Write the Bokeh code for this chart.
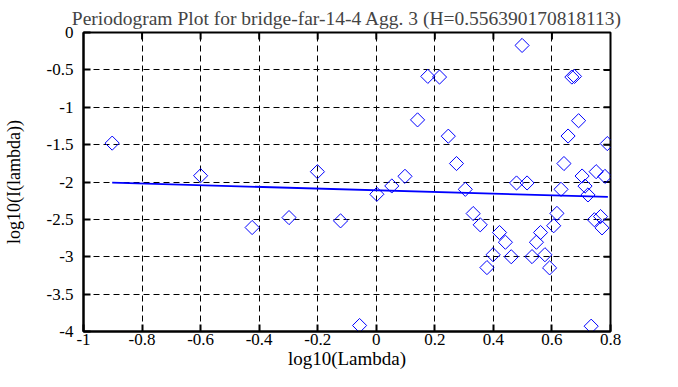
from bokeh.plotting import figure
from bokeh.models import Range1d, FixedTicker
from bokeh.embed import file_html
from bokeh.resources import INLINE
import math

title_text = "Periodogram Plot for bridge-far-14-4 Agg. 3 (H=0.556390170818113)"
x_label = "log10(Lambda)"
y_label = "log10(I(lambda))"

x_ticks = [-1, -0.8, -0.6, -0.4, -0.2, 0, 0.2, 0.4, 0.6, 0.8]
x_tick_labels = ["-1", "-0.8", "-0.6", "-0.4", "-0.2", "0", "0.2", "0.4", "0.6", "0.8"]
y_ticks = [0, -0.5, -1, -1.5, -2, -2.5, -3, -3.5, -4]
y_tick_labels = ["0", "-0.5", "-1", "-1.5", "-2", "-2.5", "-3", "-3.5", "-4"]

log_lambda = [-0.902, -0.600, -0.424, -0.298, -0.201, -0.122, -0.057, 0.002, 0.053, 0.098,
              0.141, 0.176, 0.216, 0.246, 0.274, 0.304, 0.331, 0.355, 0.378, 0.399,
              0.421, 0.441, 0.461, 0.479, 0.498, 0.515, 0.532, 0.547, 0.561, 0.576,
              0.592, 0.606, 0.617, 0.631, 0.641, 0.655, 0.668, 0.677, 0.691, 0.703,
              0.713, 0.723, 0.734, 0.745, 0.751, 0.766, 0.771, 0.781, 0.789]
log_I = [-1.48, -1.916, -2.609, -2.476, -1.862, -2.52, -3.92, -2.164, -2.053, -1.924,
         -1.169, -0.587, -0.596, -1.387, -1.753, -2.098, -2.422, -2.573, -3.145, -2.973,
         -2.676, -2.806, -3.0, -2.013, -0.173, -2.013, -2.998, -2.806, -2.676, -2.973,
         -3.149, -2.585, -2.420, -2.098, -1.753, -1.385, -0.596, -0.587, -1.18, -1.92,
         -2.055, -2.173, -3.929, -2.505, -1.862, -2.462, -2.614, -1.925, -1.486]

fit_x = [-0.902, 0.791]
fit_y = [-2.009, -2.200]

FONT = "Liberation Serif"

p = figure(width=662, height=371, output_backend="svg", toolbar_location=None,
           x_range=Range1d(-1, 0.8), y_range=Range1d(-4, 0),
           min_border_left=82, min_border_right=52, min_border_top=32, min_border_bottom=40,
           x_axis_label=x_label, y_axis_label=y_label)

p.title.text = title_text
p.title.text_font = FONT
p.title.text_font_size = "19.5px"
p.title.text_font_style = "normal"
p.title.align = "center"
p.title.standoff = 8
p.title.offset = 0

p.background_fill_color = "white"
p.border_fill_color = "white"
p.outline_line_color = "black"
p.outline_line_width = 2

for ax in p.xaxis:
    ax.ticker = FixedTicker(ticks=x_ticks)
    ax.major_label_overrides = dict(zip(x_ticks, x_tick_labels))
for ax in p.yaxis:
    ax.ticker = FixedTicker(ticks=y_ticks)
    ax.major_label_overrides = dict(zip(y_ticks, y_tick_labels))

for ax in list(p.xaxis) + list(p.yaxis):
    ax.axis_line_color = "black"
    ax.axis_line_width = 2
    ax.major_tick_in = 7
    ax.major_tick_out = 0
    ax.major_tick_line_width = 2
    ax.minor_tick_line_color = None
    ax.major_label_text_font = FONT
    ax.major_label_text_font_size = "17px"
    ax.major_label_text_color = "black"
    ax.axis_label_text_font = FONT
    ax.axis_label_text_font_style = "normal"
    ax.axis_label_text_color = "black"
p.xaxis.axis_label_text_font_size = "19px"
p.yaxis.axis_label_text_font_size = "18px"
p.xaxis.major_label_standoff = 2
p.xaxis.axis_label_standoff = 0
p.yaxis.major_label_standoff = 10
p.yaxis.axis_label_standoff = 20

p.xgrid.ticker = FixedTicker(ticks=x_ticks)
p.ygrid.ticker = FixedTicker(ticks=y_ticks)
for g in (p.xgrid, p.ygrid):
    g.grid_line_color = "black"
    g.grid_line_dash = "6 4"
    g.grid_line_width = 1

# mirrored inward ticks on top and right edges (half of each dash is clipped by the frame)
p.scatter(x_ticks[1:-1], [y_ticks[0]] * (len(x_ticks) - 2), marker="dash", size=14,
          angle=math.pi / 2, line_color="black", line_width=2)
p.scatter([x_ticks[-1]] * (len(y_ticks) - 2), y_ticks[1:-1], marker="dash", size=14,
          line_color="black", line_width=2)

p.scatter(log_lambda, log_I, marker="square", size=10, angle=math.pi / 4,
          fill_color=None, line_color="#0000ff", line_width=1)
p.line(fit_x, fit_y, line_color="#0000ff", line_width=1.8)

open("out.html", "w").write(file_html(p, INLINE))
